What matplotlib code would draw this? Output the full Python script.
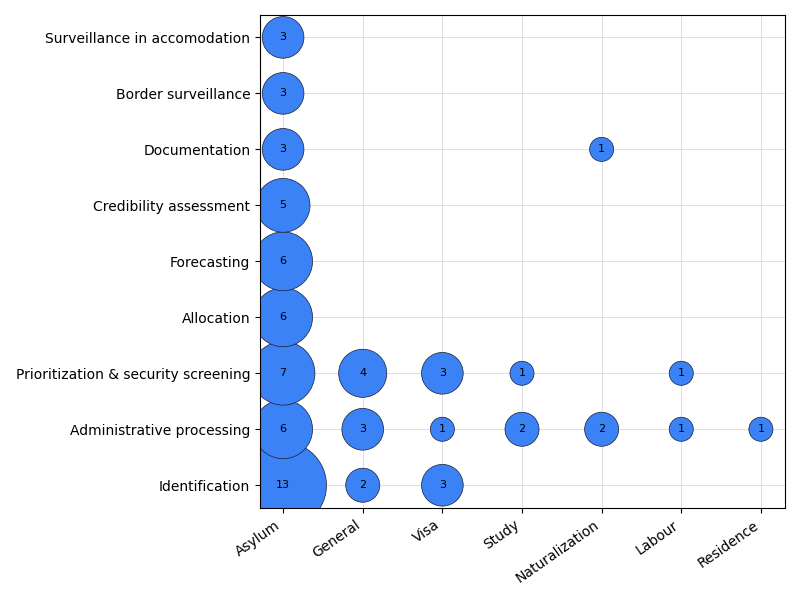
import matplotlib
matplotlib.use('Agg')
from matplotlib import pyplot as plt

domains = ['Asylum', 'General', 'Visa', 'Study', 'Naturalization', 'Labour', 'Residence']
uses = ['Identification', 'Administrative processing', 'Prioritization & security screening',
        'Allocation', 'Forecasting', 'Credibility assessment', 'Documentation',
        'Border surveillance', 'Surveillance in accomodation']

# (domain, use, count)
cells = [
    ('Asylum', 'Identification', 13), ('General', 'Identification', 2), ('Visa', 'Identification', 3),
    ('Asylum', 'Administrative processing', 6), ('General', 'Administrative processing', 3),
    ('Visa', 'Administrative processing', 1), ('Study', 'Administrative processing', 2),
    ('Naturalization', 'Administrative processing', 2), ('Labour', 'Administrative processing', 1),
    ('Residence', 'Administrative processing', 1),
    ('Asylum', 'Prioritization & security screening', 7), ('General', 'Prioritization & security screening', 4),
    ('Visa', 'Prioritization & security screening', 3), ('Study', 'Prioritization & security screening', 1),
    ('Labour', 'Prioritization & security screening', 1),
    ('Asylum', 'Allocation', 6), ('Asylum', 'Forecasting', 6), ('Asylum', 'Credibility assessment', 5),
    ('Asylum', 'Documentation', 3), ('Naturalization', 'Documentation', 1),
    ('Asylum', 'Border surveillance', 3), ('Asylum', 'Surveillance in accomodation', 3),
]

xs = [domains.index(c[0]) for c in cells]
ys = [uses.index(c[1]) for c in cells]
ns = [c[2] for c in cells]

fig, ax = plt.subplots(figsize=(8, 6), dpi=100)
ax.scatter(xs, ys, s=[n * 300 for n in ns], color='#3b82f6', edgecolor='#1a1a2e',
           linewidth=0.5, zorder=2)
for x, y, n in zip(xs, ys, ns):
    ax.text(x, y, str(n), ha='center', va='center', fontsize=8, zorder=3)

ax.set_xticks(range(len(domains)))
ax.set_xticklabels(domains, rotation=35, ha='right')
ax.set_yticks(range(len(uses)))
ax.set_yticklabels(uses)
ax.set_xlim(-0.29, 6.3)
ax.set_ylim(-0.41, 8.4)
ax.grid(True, color='#dddddd', linewidth=0.7, zorder=0)
ax.set_axisbelow(True)
plt.subplots_adjust(left=0.325, right=0.981, top=0.975, bottom=0.153)
plt.savefig('out.png')
